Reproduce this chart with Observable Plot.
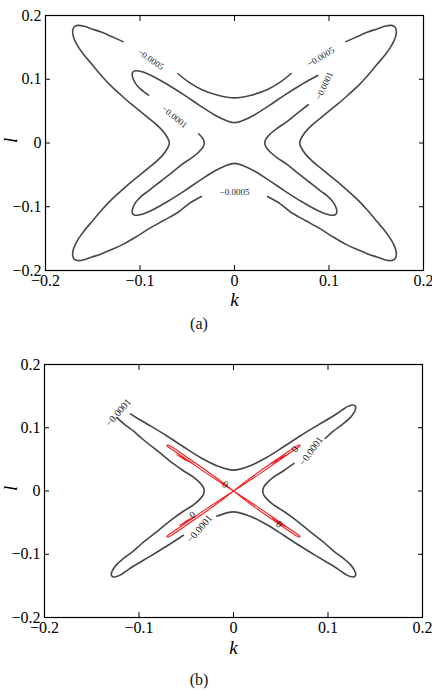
<!DOCTYPE html>
<html>
<head>
<meta charset="utf-8">
<script src="https://cdn.jsdelivr.net/npm/d3@7"></script>
<script src="https://cdn.jsdelivr.net/npm/@observablehq/plot@0.6"></script>
<style>
  html, body { margin: 0; padding: 0; background: white; }
  #page { position: relative; width: 432px; height: 690px; overflow: hidden; background: white; }
  .panel { position: absolute; left: 0; }
  .cap { position: absolute; left: 0; width: 398px; text-align: center; font: 16px "Liberation Serif", serif; color: #111; }
  svg text { font-family: "Liberation Serif", serif; }
</style>
</head>
<body>
<div id="page">
  <div id="pa" class="panel" style="top:0px"></div>
  <div class="cap" style="top:315px">(a)</div>
  <div id="pb" class="panel" style="top:340px"></div>
  <div class="cap" style="top:671px">(b)</div>
</div>
<script>
// ---------- axis ticks ----------
const tickValues = [-0.2, -0.1, 0, 0.1, 0.2];
const tickLabels = ["−0.2", "−0.1", "0", "0.1", "0.2"];

// ---------- panel (a): contour -0.0005 (outer), split at label gaps ----------
const aOuterSeg1 = [[0.118,0.159],[0.130,0.167],[0.141,0.174],[0.151,0.179],[0.159,0.183],[0.165,0.1845],[0.169,0.183],[0.171,0.178],[0.171,0.170],[0.169,0.161],[0.165,0.150],[0.159,0.1375],[0.150,0.122],[0.141,0.106],[0.131,0.090],[0.120,0.075],[0.110,0.062],[0.099,0.049],[0.090,0.038],[0.082,0.028],[0.076,0.019],[0.072,0.011],[0.0695,0.004],[0.069,0],
  [0.0695,-0.004],[0.072,-0.011],[0.076,-0.019],[0.082,-0.028],[0.090,-0.038],[0.099,-0.049],[0.110,-0.062],[0.120,-0.075],[0.131,-0.090],[0.141,-0.106],[0.150,-0.122],[0.159,-0.1375],[0.165,-0.150],[0.169,-0.161],[0.171,-0.170],[0.171,-0.178],[0.169,-0.183],[0.165,-0.1845],[0.159,-0.183],[0.151,-0.179],[0.141,-0.174],[0.130,-0.167],[0.118,-0.159],[0.104,-0.147],[0.090,-0.134],[0.075,-0.1215],[0.060,-0.109],[0.048,-0.095],[0.035,-0.084]];
const aOuterSeg2 = [[-0.035,-0.084],[-0.048,-0.095],[-0.060,-0.109],[-0.075,-0.1215],[-0.090,-0.134],[-0.104,-0.147],[-0.118,-0.159],[-0.130,-0.167],[-0.141,-0.174],[-0.151,-0.179],[-0.159,-0.183],[-0.165,-0.1845],[-0.169,-0.183],[-0.171,-0.178],[-0.171,-0.170],[-0.169,-0.161],[-0.165,-0.150],[-0.159,-0.1375],[-0.150,-0.122],[-0.141,-0.106],[-0.131,-0.090],[-0.120,-0.075],[-0.110,-0.062],[-0.099,-0.049],[-0.090,-0.038],[-0.082,-0.028],[-0.076,-0.019],[-0.072,-0.011],[-0.0695,-0.004],[-0.069,0],
  [-0.0695,0.004],[-0.072,0.011],[-0.076,0.019],[-0.082,0.028],[-0.090,0.038],[-0.099,0.049],[-0.110,0.062],[-0.120,0.075],[-0.131,0.090],[-0.141,0.106],[-0.150,0.122],[-0.159,0.1375],[-0.165,0.150],[-0.169,0.161],[-0.171,0.170],[-0.171,0.178],[-0.169,0.183],[-0.165,0.1845],[-0.159,0.183],[-0.151,0.179],[-0.141,0.174],[-0.130,0.167],[-0.118,0.159]];
const aOuterSeg3 = [[-0.060,0.109],[-0.048,0.095],[-0.035,0.084],[-0.0176,0.075],[0,0.0708],[0.0176,0.075],[0.035,0.084],[0.048,0.095],[0.060,0.109]];

// ---------- panel (a): contour -0.0001 (inner) ----------
const aInnerSeg1 = [[0.078,0.060],[0.066,0.046],[0.056,0.034],[0.045,0.023],[0.038,0.0145],[0.0335,0.007],[0.032,0],
  [0.0335,-0.007],[0.038,-0.0145],[0.045,-0.023],[0.056,-0.034],[0.066,-0.046],[0.078,-0.060],[0.091,-0.075],[0.099,-0.084],[0.105,-0.094],[0.108,-0.104],[0.108,-0.110],[0.106,-0.113],[0.101,-0.113],[0.096,-0.111],[0.088,-0.106],[0.070,-0.091],[0.053,-0.075],[0.037,-0.059],[0.021,-0.044],[0.010,-0.036],[0,-0.032],
  [-0.010,-0.036],[-0.021,-0.044],[-0.037,-0.059],[-0.053,-0.075],[-0.070,-0.091],[-0.088,-0.106],[-0.096,-0.111],[-0.101,-0.113],[-0.106,-0.113],[-0.108,-0.110],[-0.108,-0.104],[-0.105,-0.094],[-0.099,-0.084],[-0.091,-0.075],[-0.078,-0.060],[-0.066,-0.046],[-0.056,-0.034],[-0.045,-0.023],[-0.038,-0.0145],[-0.0335,-0.007],[-0.032,0],
  [-0.0335,0.007],[-0.038,0.0145]];
const aInnerSeg2 = [[-0.091,0.075],[-0.099,0.084],[-0.105,0.094],[-0.108,0.104],[-0.108,0.110],[-0.106,0.113],[-0.101,0.113],[-0.096,0.111],[-0.088,0.106],[-0.070,0.091],[-0.053,0.075],[-0.037,0.059],[-0.021,0.044],[-0.010,0.036],[0,0.032],
  [0.010,0.036],[0.021,0.044],[0.037,0.059],[0.053,0.075],[0.070,0.091],[0.088,0.106]];

// ---------- panel (a) contour labels ----------
const aLabelText  = ["−0.0005", "−0.0001", "−0.0005", "−0.0001", "−0.0005"];
const aLabelK     = [-0.0886, -0.0635, 0.0914, 0.095, 0];
const aLabelL     = [0.131, 0.041, 0.135, 0.0896, -0.077];
const aLabelAngle = [35, 39, -31, -65, 0];

// ---------- panel (b): contour -0.0001 (gray) ----------
const bGraySeg1 = [[-0.109,0.122],[-0.106,0.119],[-0.088,0.103],[-0.0705,0.087],[-0.053,0.070],[-0.035,0.053],[-0.0176,0.040],[0,0.033],[0.0176,0.040],[0.035,0.053],[0.053,0.070],[0.0705,0.087],[0.088,0.103],[0.106,0.119],[0.114,0.127],[0.120,0.133],[0.126,0.136],[0.129,0.134],[0.129,0.129],[0.1235,0.116],[0.115,0.105],[0.106,0.095],[0.097,0.083]];
const bGraySeg2 = [[0.064,0.0436],[0.053,0.032],[0.042,0.0215],[0.035,0.012],[0.032,0.006],[0.031,0],
  [0.032,-0.006],[0.035,-0.012],[0.042,-0.0215],[0.053,-0.032],[0.064,-0.0436],[0.080,-0.063],[0.097,-0.083],[0.106,-0.095],[0.115,-0.105],[0.1235,-0.116],[0.129,-0.129],[0.129,-0.134],[0.126,-0.136],[0.120,-0.133],[0.114,-0.127],[0.106,-0.119],[0.088,-0.103],[0.0705,-0.087],[0.053,-0.070],[0.035,-0.053],[0.0176,-0.040],[0,-0.033],[-0.0176,-0.040]];
const bGraySeg3 = [[-0.053,-0.070],[-0.0705,-0.087],[-0.088,-0.103],[-0.106,-0.119],[-0.114,-0.127],[-0.120,-0.133],[-0.126,-0.136],[-0.129,-0.134],[-0.129,-0.129],[-0.1235,-0.116],[-0.115,-0.105],[-0.106,-0.095],[-0.097,-0.083],[-0.080,-0.063],[-0.064,-0.0436],[-0.053,-0.032],[-0.042,-0.0215],[-0.035,-0.012],[-0.032,-0.006],[-0.031,0],
  [-0.032,0.006],[-0.035,0.012],[-0.042,0.0215],[-0.053,0.032],[-0.064,0.0436],[-0.080,0.063],[-0.097,0.083],[-0.106,0.095],[-0.115,0.105],[-0.1235,0.116]];

// ---------- panel (b): contour 0 (red) ----------
const bRedPetalUR = [[0,0],[0.015,0.0175],[0.030,0.0335],[0.045,0.049],[0.058,0.0625],[0.065,0.0695],[0.069,0.0728],[0.0705,0.0722],[0.069,0.0695],[0.060,0.0605],[0.045,0.045],[0.030,0.0295],[0.015,0.0145],[0,0]];
const bRedPetalUL = [[0,0],[-0.015,0.0175],[-0.030,0.0335],[-0.045,0.049],[-0.058,0.0625],[-0.065,0.0695],[-0.069,0.0728],[-0.0705,0.0722],[-0.069,0.0695],[-0.060,0.0605],[-0.045,0.045],[-0.030,0.0295],[-0.015,0.0145],[0,0]];
const bRedPetalLL = [[0,0],[-0.015,-0.0175],[-0.030,-0.0335],[-0.045,-0.049],[-0.058,-0.0625],[-0.065,-0.0695],[-0.069,-0.0728],[-0.0705,-0.0722],[-0.069,-0.0695],[-0.060,-0.0605],[-0.045,-0.045],[-0.030,-0.0295],[-0.015,-0.0145],[0,0]];
const bRedPetalLR = [[0,0],[0.015,-0.0175],[0.030,-0.0335],[0.045,-0.049],[0.058,-0.0625],[0.065,-0.0695],[0.069,-0.0728],[0.0705,-0.0722],[0.069,-0.0695],[0.060,-0.0605],[0.045,-0.045],[0.030,-0.0295],[0.015,-0.0145],[0,0]];
const bRedLoopUR = [[0.040,0.0435],[0.047,0.0505],[0.055,0.0565],[0.048,0.0485],[0.040,0.0435]];
const bRedLoopUL = [[-0.044,0.0445],[-0.052,0.0515],[-0.060,0.0575],[-0.051,0.049],[-0.044,0.0445]];
const bRedLoopLL = [[-0.042,-0.041],[-0.050,-0.0485],[-0.057,-0.0545],[-0.049,-0.0465],[-0.042,-0.041]];
const bRedLoopLR = [[0.041,-0.0425],[0.048,-0.0505],[0.055,-0.056],[0.047,-0.0485],[0.041,-0.0425]];

// ---------- panel (b) contour labels ----------
const bLabelText  = ["−0.0001", "−0.0001", "−0.0001", "0", "0", "0", "0"];
const bLabelK     = [-0.122, 0.082, -0.036, -0.0088, 0.065, -0.0434, 0.0483];
const bLabelL     = [0.124, 0.063, -0.060, 0.0102, 0.066, -0.0378, -0.0525];
const bLabelAngle = [-49, -54, -49, 35, -50, -35, 35];

// ---------- helpers ----------
function toRows(segs) {
  return segs.flatMap((s, i) => s.map(([k, l]) => ({k, l, seg: i})));
}
function labelRows(texts, ks, ls, angles) {
  return texts.map((t, i) => ({text: t, k: ks[i], l: ls[i], angle: angles[i]}));
}
const fmt = d => tickLabels[tickValues.findIndex(v => Math.abs(v - d) < 1e-9)];
const SERIF = "Liberation Serif, serif";
const SANS = "Liberation Sans, Arial, sans-serif";

function axes() {
  return [
    Plot.axisX({anchor: "bottom", ticks: tickValues, tickFormat: fmt, tickSize: -5, tickPadding: 9, label: null, fontFamily: SERIF, fontSize: 16, fill: "black"}),
    Plot.axisX({anchor: "top", ticks: tickValues, tickFormat: () => "", tickSize: -5, label: null}),
    Plot.axisY({anchor: "left", ticks: tickValues, tickFormat: fmt, tickSize: -5, tickPadding: 9, label: null, fontFamily: SERIF, fontSize: 16, fill: "black"}),
    Plot.axisY({anchor: "right", ticks: tickValues, tickFormat: () => "", tickSize: -5, label: null})
  ];
}

const baseStyle = {fontFamily: SERIF, fontSize: "16px", color: "black", background: "white", overflow: "visible"};

const plotA = Plot.plot({
  width: 432, height: 310,
  marginTop: 15, marginLeft: 45, marginRight: 9, marginBottom: 40,
  x: {domain: [-0.2, 0.2]},
  y: {domain: [-0.2, 0.2]},
  style: baseStyle,
  marks: [
    Plot.line(toRows([aOuterSeg1, aOuterSeg2, aOuterSeg3, aInnerSeg1, aInnerSeg2]),
      {x: "k", y: "l", z: "seg", stroke: "#474747", strokeWidth: 1.6, curve: "catmull-rom"}),
    Plot.text(labelRows(aLabelText, aLabelK, aLabelL, aLabelAngle),
      {x: "k", y: "l", text: "text", rotate: "angle", fontSize: 9, fontFamily: SANS, fill: "#222"}),
    ...axes(),
    Plot.frame({stroke: "black", strokeWidth: 1.2}),
    Plot.text(["k"], {text: d => d, frameAnchor: "bottom", dy: 35, fontStyle: "italic", fontSize: 19, fontFamily: SERIF, fill: "black"}),
    Plot.text(["l"], {text: d => d, frameAnchor: "left", dx: -35, rotate: -90, fontStyle: "italic", fontSize: 19, fontFamily: SERIF, fill: "black"})
  ]
});
document.getElementById("pa").appendChild(plotA);

const plotB = Plot.plot({
  width: 432, height: 317,
  marginTop: 24, marginLeft: 44, marginRight: 10, marginBottom: 40,
  x: {domain: [-0.2, 0.2]},
  y: {domain: [-0.2, 0.2]},
  style: baseStyle,
  marks: [
    Plot.line(toRows([bGraySeg1, bGraySeg2, bGraySeg3]),
      {x: "k", y: "l", z: "seg", stroke: "#474747", strokeWidth: 1.6, curve: "catmull-rom"}),
    Plot.line(toRows([bRedPetalUR, bRedPetalUL, bRedPetalLL, bRedPetalLR, bRedLoopUR, bRedLoopUL, bRedLoopLL, bRedLoopLR]),
      {x: "k", y: "l", z: "seg", stroke: "#f02020", strokeWidth: 1.1, curve: "linear"}),
    Plot.text(labelRows(bLabelText, bLabelK, bLabelL, bLabelAngle),
      {x: "k", y: "l", text: "text", rotate: "angle", fontSize: 10, fontFamily: SERIF, fill: "#111"}),
    ...axes(),
    Plot.frame({stroke: "black", strokeWidth: 1.2}),
    Plot.text(["k"], {text: d => d, frameAnchor: "bottom", dy: 36, fontStyle: "italic", fontSize: 19, fontFamily: SERIF, fill: "black"}),
    Plot.text(["l"], {text: d => d, frameAnchor: "left", dx: -34, rotate: -90, fontStyle: "italic", fontSize: 19, fontFamily: SERIF, fill: "black"})
  ]
});
document.getElementById("pb").appendChild(plotB);
</script>
</body>
</html>
